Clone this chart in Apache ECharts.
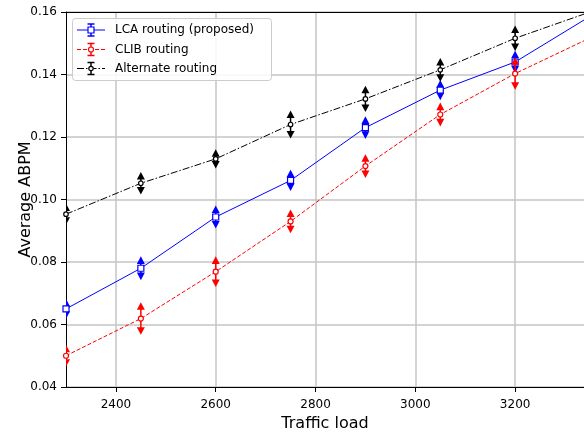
<!DOCTYPE html>
<html>
<head>
<meta charset="utf-8">
<script src="https://cdn.jsdelivr.net/npm/echarts@6/dist/echarts.min.js"></script>
<style>
html,body{margin:0;padding:0;background:#fff;}
#chart{width:584px;height:437px;}
</style>
</head>
<body>
<div id="chart"></div>
<script>
var trafficLoad = [2300, 2450, 2600, 2750, 2900, 3050, 3200, 3350];
var lcaValues  = [0.0650, 0.0780, 0.0944, 0.1061, 0.1230, 0.1350, 0.1440, 0.1586];
var lcaErr     = [0.0020, 0.0026, 0.0025, 0.0022, 0.0024, 0.0020, 0.0024, 0.0024];
var clibValues = [0.0500, 0.0619, 0.0769, 0.0930, 0.1107, 0.1272, 0.1403, 0.1517];
var clibErr    = [0.0023, 0.0040, 0.0037, 0.0026, 0.0026, 0.0026, 0.0040, 0.0030];
var altValues  = [0.0953, 0.1052, 0.1130, 0.1240, 0.1322, 0.1415, 0.1516, 0.1600];
var altErr     = [0.0022, 0.0024, 0.0019, 0.0033, 0.0030, 0.0026, 0.0029, 0.0030];
var xTicks = [2400, 2600, 2800, 3000, 3200];
var seriesNames = ['LCA routing (proposed)', 'CLIB routing', 'Alternate routing'];

var FONT = 'DejaVu Sans';
var colors = ['#0000ff', '#ff0000', '#000000'];
var X_MIN = 2300, X_MAX = 3338;

function pairs(vals) { return trafficLoad.map(function (x, i) { return [x, vals[i]]; }); }
function errData(vals, errs) {
  return trafficLoad.map(function (x, i) { return [x, vals[i] - errs[i], vals[i] + errs[i]]; });
}
function errRender(color) {
  return function (params, api) {
    var lo = api.coord([api.value(0), api.value(1)]);
    var hi = api.coord([api.value(0), api.value(2)]);
    var x = lo[0], w = 4, h = 3.8;
    return {
      type: 'group',
      children: [
        { type: 'line', shape: { x1: x, y1: lo[1], x2: x, y2: hi[1] }, style: { stroke: color, lineWidth: 1.5 } },
        { type: 'polygon', shape: { points: [[x - w, hi[1] + h], [x + w, hi[1] + h], [x, hi[1] - h]] }, style: { fill: color } },
        { type: 'polygon', shape: { points: [[x - w, lo[1] - h], [x + w, lo[1] - h], [x, lo[1] + h]] }, style: { fill: color } }
      ]
    };
  };
}

var lineTypes = ['solid', [4, 2], [7, 2, 1.5, 2]];
var symbols = ['rect', 'circle', 'circle'];
var symSizes = [6, 5, 4.5];
var vals = [lcaValues, clibValues, altValues];
var errs = [lcaErr, clibErr, altErr];

var series = [];
for (var k = 0; k < 3; k++) {
  series.push({
    type: 'custom', name: seriesNames[k] + ' err', data: errData(vals[k], errs[k]),
    renderItem: errRender(colors[k]), clip: true, z: 2 + k * 2, silent: true,
    encode: { x: 0, y: [1, 2] }
  });
  series.push({
    type: 'line', name: seriesNames[k], data: pairs(vals[k]),
    clip: true, z: 3 + k * 2,
    symbol: symbols[k], symbolSize: symSizes[k], showAllSymbol: true,
    lineStyle: { color: colors[k], width: 1, type: lineTypes[k] },
    itemStyle: { color: '#ffffff', borderColor: colors[k], borderWidth: 1.2 },
    animation: false
  });
}

// legend (matplotlib-like)
var legend = [];
legend.push({ type: 'rect', shape: { x: 72.5, y: 18.5, width: 199, height: 62, r: 3 },
  style: { fill: 'rgba(255,255,255,0.85)', stroke: '#cccccc', lineWidth: 1 }, z: 100 });
var rowsY = [30, 49.5, 68.5];
for (var r = 0; r < 3; r++) {
  var y = rowsY[r], cx = 91;
  legend.push({ type: 'line', shape: { x1: 77, y1: y, x2: 105, y2: y },
    style: { stroke: colors[r], lineWidth: 1, lineDash: r === 0 ? null : lineTypes[r] }, z: 101 });
  legend.push({ type: 'line', shape: { x1: cx, y1: y - 6, x2: cx, y2: y + 6 }, style: { stroke: colors[r], lineWidth: 1.5 }, z: 101 });
  legend.push({ type: 'line', shape: { x1: cx - 3.5, y1: y - 6, x2: cx + 3.5, y2: y - 6 }, style: { stroke: colors[r], lineWidth: 1.5 }, z: 101 });
  legend.push({ type: 'line', shape: { x1: cx - 3.5, y1: y + 6, x2: cx + 3.5, y2: y + 6 }, style: { stroke: colors[r], lineWidth: 1.5 }, z: 101 });
  if (r === 0) {
    legend.push({ type: 'rect', shape: { x: cx - 3, y: y - 3, width: 6, height: 6 }, style: { fill: '#fff', stroke: colors[r], lineWidth: 1.2 }, z: 102 });
  } else {
    legend.push({ type: 'circle', shape: { cx: cx, cy: y, r: r === 1 ? 2.5 : 2.2 }, style: { fill: '#fff', stroke: colors[r], lineWidth: 1.2 }, z: 102 });
  }
  legend.push({ type: 'text', x: 115, y: y, style: { text: seriesNames[r], font: '12px "DejaVu Sans"', fill: '#000', verticalAlign: 'middle' }, z: 102 });
}

var chart = echarts.init(document.getElementById('chart'));
chart.setOption({
  animation: false,
  backgroundColor: '#ffffff',
  grid: { left: 66, top: 12, bottom: 49, right: 0, show: false },
  xAxis: [{
    type: 'value', min: X_MIN, max: X_MAX,
    name: 'Traffic load', nameLocation: 'middle', nameGap: 29, nameMoveOverlap: false,
    nameTextStyle: { fontFamily: FONT, fontSize: 16, color: '#000' },
    axisLine: { lineStyle: { color: '#000', width: 1 } },
    axisTick: { show: true, length: 5, customValues: xTicks, lineStyle: { color: '#000' } },
    axisLabel: { customValues: xTicks, fontFamily: FONT, fontSize: 12, color: '#000', margin: 12,
      formatter: function (v) { return String(v); } },
    splitLine: { show: true, lineStyle: { color: '#c4c4c4', width: 1.5 } }
  }, {
    type: 'value', min: X_MIN, max: X_MAX, position: 'top',
    axisLine: { show: true, onZero: false, lineStyle: { color: '#000', width: 1 } },
    axisTick: { show: false }, axisLabel: { show: false }, splitLine: { show: false }
  }],
  yAxis: {
    type: 'value', min: 0.04, max: 0.16, interval: 0.02,
    name: 'Average ABPM', nameLocation: 'middle', nameGap: 32, nameRotate: 90, nameMoveOverlap: false,
    nameTextStyle: { fontFamily: FONT, fontSize: 16, color: '#000' },
    axisLine: { show: true, lineStyle: { color: '#000', width: 1 } },
    axisTick: { show: true, length: 5, lineStyle: { color: '#000' } },
    axisLabel: { fontFamily: FONT, fontSize: 12, color: '#000', margin: 9,
      formatter: function (v) { return v.toFixed(2); } },
    splitLine: { show: true, lineStyle: { color: '#c4c4c4', width: 1.5 } }
  },
  series: series,
  graphic: legend
});
</script>
</body>
</html>
